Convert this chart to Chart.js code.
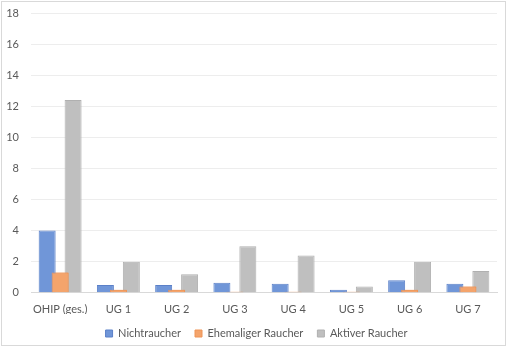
<!DOCTYPE html>
<html lang="de">
<head>
  <meta charset="UTF-8">
  <title>OHIP nach Raucherstatus</title>
  <script src="https://cdn.jsdelivr.net/npm/chart.js"></script>
  <style>
    html, body { margin: 0; padding: 0; background: #fff; }
    #wrap { width: 508px; height: 349px; position: relative; }
  </style>
</head>
<body>
  <div id="wrap">
    <canvas id="barChart" width="508" height="349"></canvas>
  </div>

  <script>
    // Daten
    const categories = ['OHIP (ges.)', 'UG 1', 'UG 2', 'UG 3', 'UG 4', 'UG 5', 'UG 6', 'UG 7'];
    const nichtraucher = [4.0, 0.5, 0.5, 0.65, 0.58, 0.2, 0.8, 0.58];
    const ehemaligeRaucher = [1.3, 0.2, 0.2, 0.06, 0.06, 0.06, 0.2, 0.4];
    const aktiveRaucher = [12.4, 2.0, 1.2, 3.0, 2.4, 0.4, 2.0, 1.4];
    const yTicks = [0, 2, 4, 6, 8, 10, 12, 14, 16, 18];

    const textColor = '#595959';
    const font = { family: 'Lato', size: 11 };

    // Rahmen um das ganze Diagramm
    const frame = {
      id: 'frame',
      afterDraw(chart) {
        const ctx = chart.ctx;
        ctx.save();
        ctx.strokeStyle = '#D9D9D9';
        ctx.lineWidth = 1;
        ctx.strokeRect(1.5, 1.5, 504, 344);
        ctx.restore();
      }
    };

    // Legende etwas nach rechts, wie im Original
    const legendShift = {
      id: 'legendShift',
      afterLayout(chart) {
        chart.legend.left += 8;
        chart.legend.right += 8;
      }
    };

    // orange Balken liegen wie im Original ueber den grauen
    const orangeOnTop = {
      id: 'orangeOnTop',
      afterDatasetsDraw(chart) {
        const ctx = chart.ctx;
        const area = chart.chartArea;
        ctx.save();
        ctx.beginPath();
        ctx.rect(area.left, area.top, area.right - area.left, area.bottom - area.top);
        ctx.clip();
        chart.getDatasetMeta(1).controller.draw();
        ctx.restore();
      }
    };

    new Chart(document.getElementById('barChart'), {
      type: 'bar',
      data: {
        labels: categories,
        datasets: [
          {
            label: 'Nichtraucher',
            data: nichtraucher,
            backgroundColor: '#7096D8',
            borderColor: '#5B80C8',
            borderWidth: 1
          },
          {
            label: 'Ehemaliger Raucher',
            data: ehemaligeRaucher,
            backgroundColor: '#F4A46C',
            borderColor: '#EE9456',
            borderWidth: 1
          },
          {
            label: 'Aktiver Raucher',
            data: aktiveRaucher,
            backgroundColor: '#BFBFBF',
            borderColor: '#B0B0B0',
            borderWidth: 1
          }
        ]
      },
      options: {
        responsive: false,
        animation: false,
        devicePixelRatio: 1,
        layout: { padding: { top: 13, left: 0, right: 11, bottom: 0 } },
        datasets: {
          bar: { categoryPercentage: 0.668, barPercentage: 1.31 }
        },
        plugins: {
          tooltip: { enabled: false },
          legend: {
            position: 'bottom',
            labels: {
              color: textColor,
              font: font,
              boxWidth: 7,
              boxHeight: 7,
              padding: 14
            }
          }
        },
        scales: {
          x: {
            afterFit: (scale) => { scale.height -= 12; },
            grid: { display: false, drawTicks: false },
            border: { color: '#D9D9D9', width: 1 },
            ticks: { color: textColor, font: font, padding: 10, maxRotation: 0, autoSkip: false }
          },
          y: {
            min: 0,
            max: 18,
            afterBuildTicks: (scale) => { scale.ticks = yTicks.map(v => ({ value: v })); },
            afterFit: (scale) => { scale.width = 31; scale.paddingTop = 0; scale.paddingBottom = 0; },
            grid: { color: '#EDEDED', drawTicks: false },
            border: { display: false },
            ticks: { color: textColor, font: font, padding: 12 }
          }
        }
      },
      plugins: [frame, legendShift, orangeOnTop]
    });
  </script>
</body>
</html>
